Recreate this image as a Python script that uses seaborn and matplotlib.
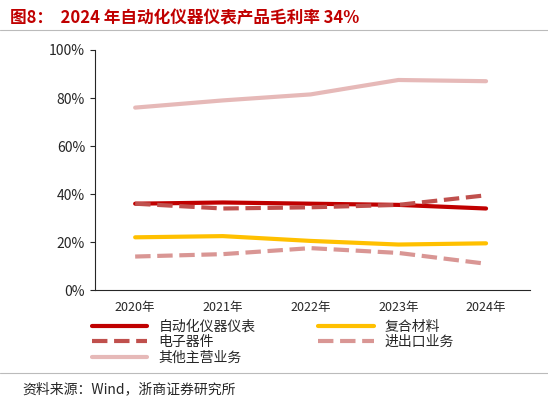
import matplotlib
matplotlib.use("Agg")
import matplotlib.pyplot as plt
import seaborn as sns
import pandas as pd

years = ["2020年", "2021年", "2022年", "2023年", "2024年"]
auto = [36, 36.5, 36, 35.5, 34]
composite = [22, 22.5, 20.5, 19, 19.5]
electronic = [36, 34, 34.5, 35.5, 39.5]
trade = [14, 15, 17.5, 15.5, 11]
other = [76, 79, 81.5, 87.5, 87]

sns.set_style("ticks")
plt.rcParams['font.family'] = ['Noto Sans CJK SC', 'DejaVu Sans']

series = [
    ("自动化仪器仪表", auto, "#c00000", "-"),
    ("复合材料", composite, "#ffc000", "-"),
    ("电子器件", electronic, "#c0504d", "--"),
    ("进出口业务", trade, "#d99694", "--"),
    ("其他主营业务", other, "#e6b9b8", "-"),
]
rows = []
for name, vals, _, _ in series:
    for y, v in zip(years, vals):
        rows.append({"year": y, "value": v, "series": name})
df = pd.DataFrame(rows)

fig = plt.figure(figsize=(5.48, 4.03), dpi=100)
ax = fig.add_axes([0.173, 0.28, 0.794, 0.596])
for name, vals, color, ls in series:
    sub = df[df.series == name]
    sns.lineplot(data=sub, x="year", y="value", ax=ax, color=color,
                 linestyle=ls, linewidth=3, label=name, sort=False)
ax.set_xlim(-0.46, 4.5)
ax.set_ylim(0, 100)
ax.set_yticks(range(0, 101, 20))
ax.set_yticklabels([f"{v}%" for v in range(0, 101, 20)], fontsize=10)
ax.tick_params(axis='x', labelsize=9, length=0, pad=8)
ax.set_xlabel("")
ax.set_ylabel("")
for s in ["top", "right"]:
    ax.spines[s].set_visible(False)
h, l = ax.get_legend_handles_labels()
order = [0, 2, 4, 1, 3]
ax.legend([h[i] for i in order], [l[i] for i in order], loc="upper left",
          bbox_to_anchor=(-0.02, -0.1), ncol=2, frameon=False,
          fontsize=10, handlelength=4.0, columnspacing=4.5, labelspacing=0.1,
          borderaxespad=0)

fig.text(0.018, 0.955, "图8：  2024 年自动化仪器仪表产品毛利率 34%", color="#c00000",
         fontsize=12, fontweight="bold", va="center")
fig.add_artist(plt.Line2D([0.0, 1.0], [0.925, 0.925], color="#bbbbbb", lw=0.8))
fig.add_artist(plt.Line2D([0.0, 1.0], [0.075, 0.075], color="#bbbbbb", lw=0.8))
fig.text(0.04, 0.035, "资料来源：Wind，浙商证券研究所", fontsize=10, va="center")
fig.savefig("out.png", dpi=100)
